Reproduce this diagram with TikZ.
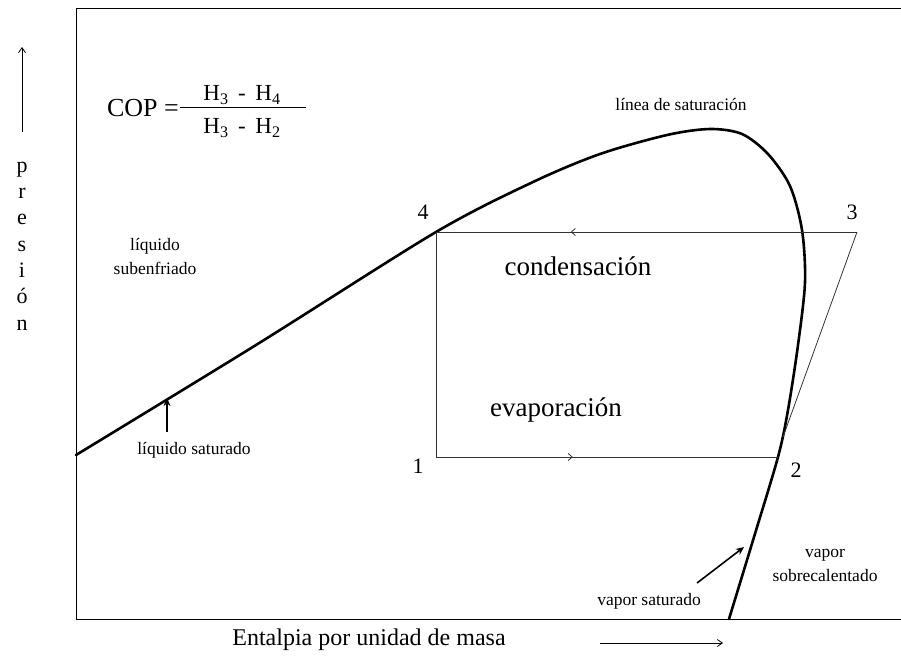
\documentclass[tikz,border=0pt]{standalone}
\usepackage{fontspec}
\setmainfont{Liberation Serif}
\usetikzlibrary{arrows.meta,decorations.markings}
\tikzset{
  satcurve/.style={line width=2.6pt, line join=round, line cap=round},
  cycline/.style={line width=0.8pt, black!80},
  frameline/.style={line width=1pt},
  smalllbl/.style={font=\fontsize{17.5}{18}\selectfont, inner sep=0pt, align=center},
  biglbl/.style={font=\fontsize{27}{28}\selectfont, inner sep=0pt},
  numlbl/.style={font=\fontsize{22}{22}\selectfont, inner sep=0pt},
  ptr/.style={line width=1.6pt, -{Stealth[length=8pt,width=7pt]}},
  barb/.style={line width=0.8pt, -{Straight Barb[length=5pt,width=7pt]}},
  midarrow/.style={postaction={decorate}, decoration={markings, mark=at position #1 with {\arrow{Straight Barb[length=4pt,width=7pt]}}}}
}
\begin{document}
\begin{tikzpicture}[x=1pt,y=-1pt]
\useasboundingbox (0,0) rectangle (901,662);

% frame
\draw[frameline] (901,8) -- (76,8) -- (76,619) -- (901,619);

% y axis label
\coordinate (ya) at (22,132);
\coordinate (yb) at (22,47);
\draw[barb] (ya) -- (yb);
\node[font=\fontsize{22}{26.3}\selectfont, align=center, inner sep=0pt] (pres) at (22,246) {p\\r\\e\\s\\i\\ó\\n};

% x axis label
\node[font=\fontsize{24}{26}\selectfont, inner sep=0pt] (xlab) at (369,640) {Entalpia por unidad de masa};
\coordinate (xa) at (600,643);
\coordinate (xb) at (723,643);
\draw[barb] (xa) -- (xb);

% formula
\node[font=\fontsize{26}{27}\selectfont, inner sep=0pt, anchor=east] (cop) at (179,108) {COP =};
\node[font=\fontsize{23}{24}\selectfont, inner sep=0pt] (fnum) at (242,95) {H\textsubscript{3}\, - \,H\textsubscript{4}};
\node[font=\fontsize{23}{24}\selectfont, inner sep=0pt] (fden) at (242,128) {H\textsubscript{3}\, - \,H\textsubscript{2}};
\coordinate (fba) at (180,107);
\coordinate (fbb) at (306,107);
\draw[line width=0.9pt] (fba) -- (fbb);

% cycle points
\coordinate (p4) at (436,232);
\coordinate (p3) at (857,232);
\coordinate (p1) at (436,457);
\coordinate (p2) at (778,457);
\coordinate (c32) at (783,437);

% saturation curve
\draw[satcurve] plot[smooth, tension=0.5] coordinates {
 (76,455) (256,345) (436,232) (533,182) (600,154)
 (667,135) (710,129) (742,134) (768,154) (790,186) (802,230) (805,282)
 (798,345) (788,410) (778,457) (754,537) (729,619)};

% cycle lines
\draw[cycline, midarrow=0.68] (p3) -- (p4);
\draw[cycline] (p4) -- (p1);
\draw[cycline, midarrow=0.40] (p1) -- (p2);
\draw[cycline] (p3) -- (c32);

% point labels
\node[numlbl] (n4) at (423,212) {4};
\node[numlbl] (n3) at (852,212) {3};
\node[numlbl] (n1) at (418,466) {1};
\node[numlbl] (n2) at (796,470) {2};

% region labels
\node[biglbl] (cond) at (578,266) {condensación};
\node[biglbl] (evap) at (556,410) {evaporación};
\node[smalllbl] (linea) at (681,104) {línea de saturación};
\node[smalllbl, font=\fontsize{17.5}{24}\selectfont] (subenf) at (155,256) {líquido\\subenfriado};
\node[smalllbl] (liqsat) at (194,450) {líquido saturado};
\node[smalllbl] (vapsat) at (649,601) {vapor saturado};
\node[smalllbl, font=\fontsize{17.5}{24}\selectfont] (vapsob) at (825,565) {vapor\\sobrecalentado};

% pointers
\coordinate (la) at (167,432);
\coordinate (lb) at (167,398);
\draw[ptr] (la) -- (lb);
\coordinate (va) at (697,583);
\coordinate (vb) at (744,547);
\draw[ptr] (va) -- (vb);
\end{tikzpicture}
\end{document}
